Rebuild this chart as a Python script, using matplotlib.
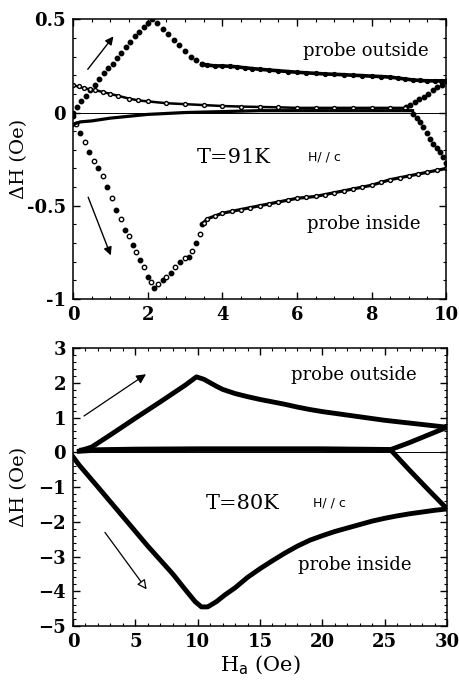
import numpy as np
import matplotlib
matplotlib.use('Agg')
import matplotlib.pyplot as plt
from matplotlib.ticker import MultipleLocator

plt.rcParams['font.family'] = ['DejaVu Serif']

# ---- T = 91 K (panel de arriba) ----
# probe outside, campo subiendo
out_up_x = [0.0, 0.1, 0.22, 0.34, 0.46, 0.58, 0.7, 0.82, 0.94, 1.06, 1.18, 1.3, 1.42, 1.54, 1.66, 1.78, 1.9, 2.02, 2.12,
            2.25, 2.4, 2.55, 2.7, 2.85, 3.0, 3.15, 3.3, 3.45]
out_up_y = [0.0, 0.03, 0.06, 0.09, 0.12, 0.15, 0.18, 0.21, 0.24, 0.26, 0.29, 0.32, 0.35, 0.38, 0.41, 0.43, 0.46, 0.48, 0.5,
            0.48, 0.45, 0.42, 0.39, 0.36, 0.33, 0.3, 0.28, 0.26]
out_flat_x = [3.45, 3.6, 3.8, 4.0, 4.2, 4.4, 4.6, 4.8, 5.0, 5.25, 5.5, 5.75, 6.0, 6.25, 6.5, 6.75, 7.0, 7.25, 7.5, 7.75,
              8.0, 8.25, 8.5, 8.7, 8.9, 9.1, 9.3, 9.5, 9.7, 9.85, 10.0]
out_flat_y = [0.26, 0.255, 0.25, 0.25, 0.248, 0.245, 0.24, 0.236, 0.232, 0.228, 0.224, 0.22, 0.216, 0.213, 0.21, 0.207,
              0.205, 0.203, 0.2, 0.198, 0.195, 0.193, 0.19, 0.185, 0.18, 0.175, 0.172, 0.17, 0.17, 0.17, 0.17]
# probe outside, campo bajando
out_dn_x = [10.0, 9.88, 9.76, 9.64, 9.52, 9.4, 9.28, 9.16, 9.04, 8.92]
out_dn_y = [0.17, 0.15, 0.135, 0.12, 0.1, 0.085, 0.07, 0.055, 0.04, 0.03]
out_ret_x = [8.9, 8.5, 8.0, 7.5, 7.0, 6.5, 6.0, 5.5, 5.0, 4.5, 4.0, 3.5, 3.0, 2.5, 2.0, 1.75, 1.5, 1.2, 1.0, 0.8, 0.6, 0.45,
             0.3, 0.15, 0.0]
out_ret_y = [0.025, 0.025, 0.025, 0.025, 0.025, 0.025, 0.025, 0.028, 0.03, 0.032, 0.035, 0.04, 0.045, 0.05, 0.06, 0.065,
             0.075, 0.09, 0.1, 0.11, 0.12, 0.125, 0.13, 0.14, 0.145]

# probe inside, campo subiendo
in_up_x = [0.0, 0.08, 0.2, 0.32, 0.44, 0.56, 0.68, 0.8, 0.92, 1.04, 1.16, 1.28, 1.4, 1.5, 1.6, 1.7, 1.8, 1.9, 2.0, 2.1, 2.17,
           2.29, 2.4, 2.5, 2.62, 2.74, 2.87, 3.0, 3.1, 3.2, 3.3, 3.4, 3.47]
in_up_y = [-0.02, -0.06, -0.11, -0.16, -0.21, -0.26, -0.3, -0.34, -0.4, -0.46, -0.52, -0.57, -0.63, -0.66, -0.71, -0.75, -0.79,
           -0.83, -0.88, -0.91, -0.94, -0.92, -0.9, -0.88, -0.86, -0.83, -0.8, -0.78, -0.775, -0.74, -0.7, -0.65, -0.6]
in_flat_x = [3.5, 3.6, 3.8, 4.0, 4.25, 4.5, 4.75, 5.0, 5.25, 5.5, 5.75, 6.0, 6.25, 6.5, 6.75, 7.0, 7.25, 7.5, 7.75, 8.0,
             8.25, 8.5, 8.75, 9.0, 9.25, 9.5, 9.75, 10.0]
in_flat_y = [-0.59, -0.57, -0.555, -0.54, -0.53, -0.52, -0.51, -0.5, -0.49, -0.48, -0.47, -0.46, -0.455, -0.45, -0.44,
             -0.43, -0.42, -0.41, -0.4, -0.39, -0.375, -0.36, -0.35, -0.34, -0.33, -0.32, -0.31, -0.3]
# probe inside, campo bajando
in_dn_x = [10.0, 9.92, 9.84, 9.75, 9.66, 9.57, 9.48, 9.39, 9.3, 9.21, 9.12]
in_dn_y = [-0.27, -0.24, -0.21, -0.19, -0.17, -0.14, -0.11, -0.08, -0.05, -0.03, -0.01]
in_ret_x = [9.1, 8.0, 7.0, 6.0, 5.0, 4.0, 3.0, 2.0, 1.0, 0.5, 0.2, 0.05, 0.0]
in_ret_y = [0.01, 0.01, 0.01, 0.01, 0.01, 0.005, 0.0, -0.01, -0.03, -0.045, -0.05, -0.06, -0.07]

# ---- T = 80 K (panel de abajo) ----
b_out_up_x = [0.7, 1.5, 3.0, 5.0, 7.0, 9.0, 9.9, 10.5, 11.0, 11.5, 12.0, 13.0, 14.0, 15.0, 16.0, 17.0, 18.0, 19.0, 20.0,
              21.0, 22.0, 23.0, 24.0, 25.0, 26.0, 27.0, 28.0, 29.0, 30.0]
b_out_up_y = [0.06, 0.15, 0.5, 0.98, 1.45, 1.93, 2.17, 2.1, 2.0, 1.9, 1.81, 1.69, 1.6, 1.52, 1.45, 1.38, 1.3, 1.23, 1.17,
              1.12, 1.07, 1.02, 0.97, 0.92, 0.88, 0.84, 0.8, 0.76, 0.72]
b_out_dn_x = [30.0, 28.5, 27.0, 25.5, 20.0, 15.0, 10.0, 5.0, 1.5, 0.7]
b_out_dn_y = [0.72, 0.5, 0.28, 0.08, 0.1, 0.1, 0.1, 0.09, 0.07, 0.06]
b_in_up_x = [0.0, 0.5, 2.0, 4.0, 6.0, 8.0, 9.0, 9.8, 10.3, 10.8, 11.5, 12.2, 13.0, 14.0, 15.0, 16.0, 17.0, 18.0, 19.0,
             20.0, 21.0, 22.0, 23.0, 24.0, 25.0, 26.0, 27.0, 28.0, 29.0, 30.0]
b_in_up_y = [-0.13, -0.37, -1.0, -1.85, -2.7, -3.5, -3.95, -4.3, -4.45, -4.45, -4.3, -4.1, -3.9, -3.6, -3.35, -3.12, -2.9,
             -2.7, -2.53, -2.4, -2.28, -2.18, -2.08, -1.98, -1.9, -1.83, -1.77, -1.72, -1.67, -1.63]
b_in_dn_x = [30.0, 28.5, 27.0, 25.5, 20.0, 15.0, 10.0, 5.0, 1.5, 0.5]
b_in_dn_y = [-1.63, -1.08, -0.52, 0.06, 0.08, 0.08, 0.08, 0.07, 0.05, 0.03]

fig = plt.figure(figsize=(4.59, 6.89), dpi=100)
ax1 = fig.add_axes([0.159, 0.566, 0.813, 0.406])
ax2 = fig.add_axes([0.159, 0.0914, 0.815, 0.4035])

ms = 3.2
# panel de arriba
ax1.axhline(0, color='k', lw=0.7)
ax1.plot(out_up_x, out_up_y, 'o', color='k', ms=ms)
ax1.plot(out_flat_x, out_flat_y, '-o', color='k', ms=2.8, lw=2.6)
ax1.plot(out_dn_x, out_dn_y, 'o', color='k', ms=ms)
ax1.plot(out_ret_x, out_ret_y, '-o', color='k', mfc='white', ms=2.8, lw=1.8)
ax1.plot(in_up_x[::2], in_up_y[::2], 'o', color='k', ms=ms)
ax1.plot(in_up_x[1::2], in_up_y[1::2], 'o', color='k', mfc='white', ms=ms)
ax1.plot(in_flat_x, in_flat_y, '-o', color='k', mfc='white', ms=2.8, lw=2.3)
ax1.plot(in_dn_x, in_dn_y, 'o', color='k', ms=ms)
ax1.plot(in_ret_x, in_ret_y, '-', color='k', lw=2.3)

ax1.annotate('', xy=(1.13, 0.42), xytext=(0.35, 0.22),
             arrowprops=dict(arrowstyle='-|>', color='k', lw=1.0, mutation_scale=12))
ax1.annotate('', xy=(1.04, -0.78), xytext=(0.38, -0.44),
             arrowprops=dict(arrowstyle='-|>', color='k', lw=1.0, mutation_scale=12))
ax1.text(7.85, 0.33, 'probe outside', fontsize=13, ha='center', va='center')
ax1.text(7.8, -0.6, 'probe inside', fontsize=13, ha='center', va='center')
ax1.text(4.3, -0.24, 'T=91K', fontsize=15, ha='center', va='center')
ax1.text(6.75, -0.24, 'H/ / c', fontsize=9, ha='center', va='center', family='DejaVu Sans')

ax1.set_xlim(0, 10)
ax1.set_ylim(-1, 0.5)
ax1.xaxis.set_major_locator(MultipleLocator(2))
ax1.xaxis.set_minor_locator(MultipleLocator(0.5))
ax1.yaxis.set_minor_locator(MultipleLocator(0.1))
ax1.set_yticks([-1, -0.5, 0, 0.5])
ax1.set_yticklabels(['-1', '-0.5', '0', '0.5'])
ax1.set_ylabel('ΔH (Oe)', fontsize=14)

# panel de abajo
ax2.axhline(0, color='k', lw=0.7)
ax2.plot(b_out_up_x, b_out_up_y, '-', color='k', lw=3.5, solid_joinstyle='round')
ax2.plot(b_out_dn_x, b_out_dn_y, '-', color='k', lw=3.5, solid_joinstyle='round')
ax2.plot(b_in_up_x, b_in_up_y, '-', color='k', lw=3.5, solid_joinstyle='round')
ax2.plot(b_in_dn_x, b_in_dn_y, '-', color='k', lw=3.5, solid_joinstyle='round')

ax2.annotate('', xy=(6.04, 2.29), xytext=(0.7, 1.0),
             arrowprops=dict(arrowstyle='-|>', color='k', lw=0.9, mutation_scale=14))
ax2.annotate('', xy=(6.04, -4.01), xytext=(2.43, -2.24),
             arrowprops=dict(arrowstyle='-|>', color='k', lw=0.9, mutation_scale=14, fc='white'))
ax2.text(22.5, 2.22, 'probe outside', fontsize=13, ha='center', va='center')
ax2.text(22.6, -3.24, 'probe inside', fontsize=13, ha='center', va='center')
ax2.text(13.6, -1.47, 'T=80K', fontsize=15, ha='center', va='center')
ax2.text(20.6, -1.47, 'H/ / c', fontsize=9, ha='center', va='center', family='DejaVu Sans')

ax2.set_xlim(0, 30)
ax2.set_ylim(-5, 3)
ax2.xaxis.set_major_locator(MultipleLocator(5))
ax2.xaxis.set_minor_locator(MultipleLocator(1))
ax2.yaxis.set_major_locator(MultipleLocator(1))
ax2.yaxis.set_minor_locator(MultipleLocator(0.2))
ax2.set_ylabel('ΔH (Oe)', fontsize=14)
ax2.set_xlabel(r'H$_{\mathrm{a}}$ (Oe)', fontsize=15, labelpad=2)

for ax in (ax1, ax2):
    ax.tick_params(which='both', direction='in', top=True, right=True)
    ax.tick_params(which='major', length=5, width=1.0, labelsize=13, pad=5)
    ax.tick_params(which='minor', length=2.5, width=0.8)
    for lab in ax.get_xticklabels() + ax.get_yticklabels():
        lab.set_fontweight('bold')
    for s in ax.spines.values():
        s.set_linewidth(1.1)
    ax.yaxis.set_label_coords(-0.12, 0.5)

fig.savefig('out.png', dpi=100)
